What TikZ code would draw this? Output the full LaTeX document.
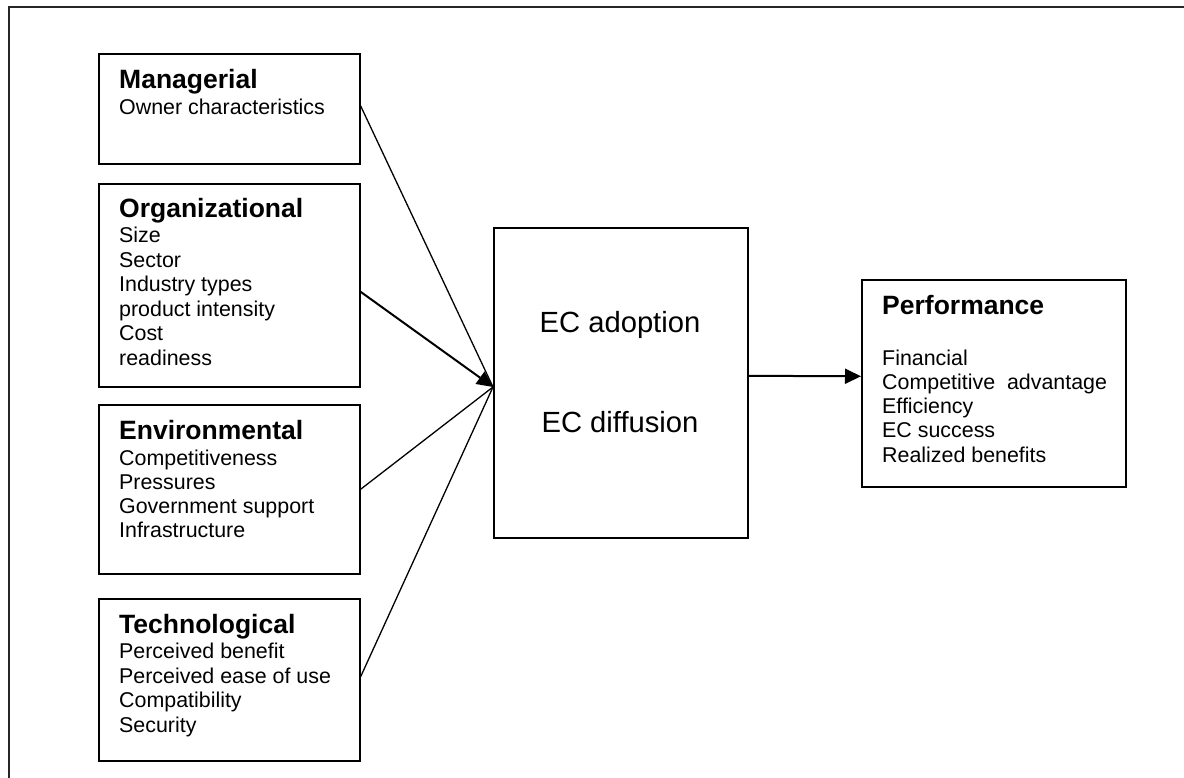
\documentclass[tikz,border=0pt]{standalone}
\usepackage{fontspec}
\setmainfont{Liberation Sans}
\usetikzlibrary{arrows.meta}
\begin{document}
\begin{tikzpicture}[x=1pt,y=-1pt,
  box/.style={draw, line width=1.6pt, anchor=north west, inner sep=0pt},
  head/.style={anchor=base west, inner sep=0pt, font=\fontsize{26.5}{30}\selectfont\bfseries},
  itm/.style={anchor=base west, inner sep=0pt, font=\fontsize{21.4}{24}\selectfont},
  big/.style={anchor=base, inner sep=0pt, font=\fontsize{29.2}{34}\selectfont},
  conn/.style={line width=1.3pt},
  tip/.style={-{Triangle[length=16pt,width=15pt]}}]
\useasboundingbox (0,0) rectangle (1184,778);
\draw[line width=1.3pt, black!85] (1184,7) -- (9,7) -- (9,778);

% boxes
\node[box, minimum width=261pt, minimum height=110pt] (man) at (98,53) {};
\node[box, minimum width=261pt, minimum height=203pt] (org) at (98,183) {};
\node[box, minimum width=261pt, minimum height=169pt] (env) at (98,404) {};
\node[box, minimum width=261pt, minimum height=162pt] (tec) at (98,598) {};
\node[box, minimum width=254pt, minimum height=310pt] (ec) at (493,227) {};
\node[box, minimum width=264pt, minimum height=207pt] (perf) at (861,279) {};

% texts
\node[head] (manh) at (119,89) {Managerial};
\node[itm] (man1) at (119,115) {Owner characteristics};

\node[head] (orgh) at (119,218) {Organizational};
\node[itm] (org1) at (119,243) {Size};
\node[itm] (org2) at (119,267.4) {Sector};
\node[itm] (org3) at (119,291.8) {Industry types};
\node[itm] (org4) at (119,316.2) {product intensity};
\node[itm] (org5) at (119,340.6) {Cost};
\node[itm] (org6) at (119,365) {readiness};

\node[head] (envh) at (119,439) {Environmental};
\node[itm] (env1) at (119,465) {Competitiveness};
\node[itm] (env2) at (119,489) {Pressures};
\node[itm] (env3) at (119,513) {Government support};
\node[itm] (env4) at (119,537) {Infrastructure};

\node[head] (tech) at (119,633) {Technological};
\node[itm] (tec1) at (119,658) {Perceived benefit};
\node[itm] (tec2) at (119,683) {Perceived ease of use};
\node[itm] (tec3) at (119,707.5) {Compatibility};
\node[itm] (tec4) at (119,732.5) {Security};

\node[big] (eca) at (620,332) {EC adoption};
\node[big] (ecd) at (620,432) {EC diffusion};

\node[head] (perfh) at (882,315) {Performance};
\node[itm] (perf1) at (882,365) {Financial};
\node[itm] (perf2) at (882,389.3) {Competitive\ \ advantage};
\node[itm] (perf3) at (882,413.6) {Efficiency};
\node[itm] (perf4) at (882,437.9) {EC success};
\node[itm] (perf5) at (882,462.2) {Realized benefits};

% connectors
\coordinate (conv) at (493,387);
\draw[conn] ([yshift=3pt]man.east) -- (conv);
\draw[conn] (env.east) -- (conv);
\draw[conn] ([yshift=3pt]tec.east) -- (conv);
\draw[conn, line width=2pt, tip] ([yshift=-6.5pt]org.east) -- (conv);
\draw[conn, line width=2pt, tip] ([yshift=7pt]ec.east) -- ([yshift=7pt]perf.west);
\end{tikzpicture}
\end{document}
